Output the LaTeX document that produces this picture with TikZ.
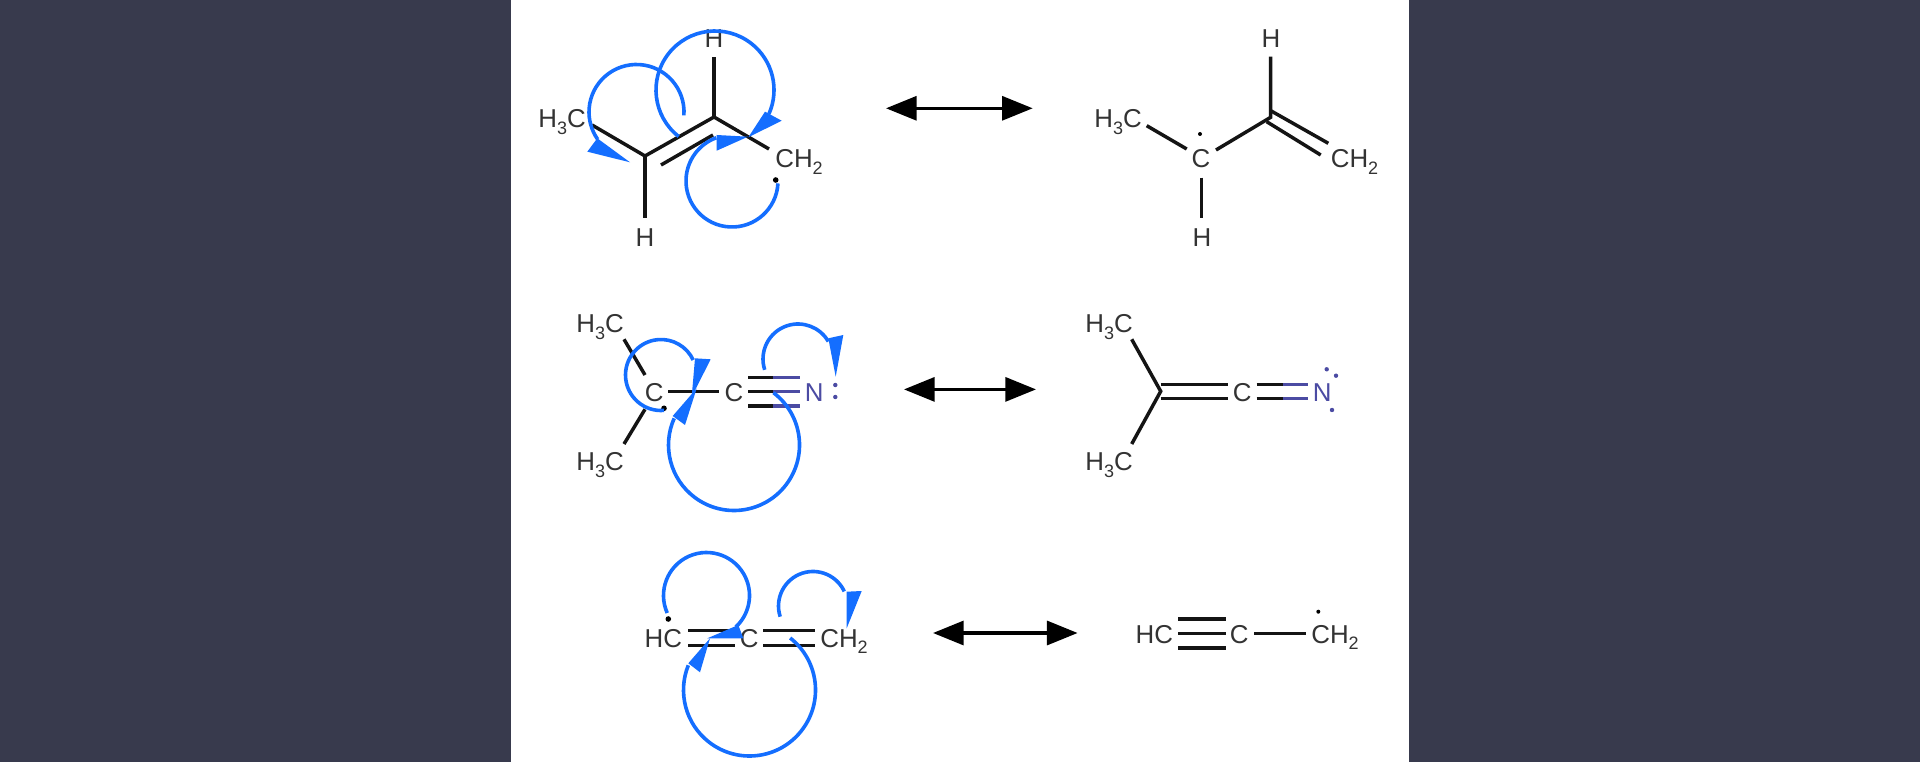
\documentclass[tikz,border=0pt]{standalone}
\usepackage{fontspec}
\setmainfont{Liberation Sans}
\usepackage{xcolor}
\usepackage{tikz}
\usetikzlibrary{arrows.meta}
\definecolor{pagedark}{HTML}{383A4D}
\definecolor{curvedblue}{HTML}{146EFF}
\definecolor{nitrogen}{HTML}{4B4BA3}
\definecolor{atomgrey}{HTML}{333333}
\newcommand{\lowsub}[1]{\raisebox{-4.8pt}{\fontsize{13.5}{13.5}\selectfont #1}}
\tikzset{
  atom/.style={anchor=base,inner sep=0pt,text=atomgrey,font=\fontsize{19.4}{19.4}\selectfont},
  natom/.style={atom,text=nitrogen},
  bond/.style={line width=2.6pt,color=black!92},
  nbond/.style={line width=2.6pt,color=nitrogen},
  curved/.style={line width=2.7pt,color=curvedblue},
  curvedtip/.style={fill=curvedblue},
  resonance/.style={line width=2.4pt,black,{Triangle[length=23pt,width=18pt]}-{Triangle[length=23pt,width=18pt]}}
}
\begin{document}
\begin{tikzpicture}[x=0.75pt,y=0.75pt,yscale=-1,xscale=1]
        \useasboundingbox (0,0) rectangle (1920,762);
        \fill[pagedark] (0,0) rectangle (1920,762);
        \fill[white] (511,0) rectangle (1409,762);

        % top left
        \coordinate (a0) at (592,125);
        \coordinate (a1) at (645,156);
        \coordinate (a2) at (714,117);
        \coordinate (a3) at (769,149);
        \coordinate (a4) at (714,57);
        \coordinate (a5) at (645,218);
        \coordinate (a6) at (661,165);
        \coordinate (a7) at (713,135);
        \draw [bond]   (a0) -- (a1) -- (a2) -- (a3) ;
        \draw [bond]   (a2) -- (a4) ;
        \draw [bond]   (a1) -- (a5) ;
        \draw [bond]   (a6) -- (a7) ;
        \draw (562,127.7) node (am) [atom] {H\lowsub{3}C};
        \draw (714,47.7) node (ah) [atom] {H};
        \draw (645,246.7) node (ai) [atom] {H};
        \draw (799,167.7) node (ac) [atom] {CH\lowsub{2}};
        \fill (775.7,180) circle (2.8);
        \draw [curved] (636.5,112) ++(4:47.5) arc [start angle=4,end angle=-215,radius=47.5];
        \fill [curvedtip] (587.3,151.7) -- (597.3,138.3) -- (630,162.3) -- cycle;
        \draw [curved] (715,90) ++(128:59) arc [start angle=128,end angle=384,radius=59];
        \fill [curvedtip] (781.7,120.7) -- (765,111.7) -- (748.3,137.3) -- cycle;
        \draw [curved] (732,181) ++(3:46) arc [start angle=3,end angle=250,radius=46];
        \fill [curvedtip] (716.7,135) -- (716.7,150.7) -- (748,136.7) -- cycle;

        % top right
        \coordinate (b0) at (1146.7,125.7);
        \coordinate (b1) at (1186.7,149);
        \coordinate (b2) at (1216,150);
        \coordinate (b3) at (1270.7,117.3);
        \coordinate (b4) at (1270.7,56.7);
        \coordinate (b5) at (1270.7,110.7);
        \coordinate (b6) at (1328.3,143.3);
        \coordinate (b7) at (1266.7,121.7);
        \coordinate (b8) at (1320.7,155);
        \coordinate (b9) at (1201.7,177.7);
        \coordinate (b10) at (1201.7,218.3);
        \draw [bond]   (b0) -- (b1) ;
        \draw [bond]   (b2) -- (b3) -- (b4) ;
        \draw [bond]   (b5) -- (b6) ;
        \draw [bond]   (b7) -- (b8) ;
        \draw [bond]   (b9) -- (b10) ;
        \draw (1118,127.7) node (bm) [atom] {H\lowsub{3}C};
        \draw (1201,167.7) node (bc) [atom] {C};
        \draw (1202,246.7) node (bi) [atom] {H};
        \draw (1271,47.7) node (bh) [atom] {H};
        \draw (1354.5,167.7) node (be) [atom] {CH\lowsub{2}};
        \fill (1200,134) circle (2);

        % middle left
        \coordinate (c0) at (624,339.3);
        \coordinate (c1) at (645,375);
        \coordinate (c2) at (645,409.3);
        \coordinate (c3) at (624,444);
        \coordinate (c4) at (668.3,391.5);
        \coordinate (c5) at (719.3,391.5);
        \coordinate (c6) at (748.3,377.3);
        \coordinate (c7) at (773,377.3);
        \coordinate (c8) at (800,377.3);
        \coordinate (c9) at (748.3,391.5);
        \coordinate (c10) at (773,391.5);
        \coordinate (c11) at (800,391.5);
        \coordinate (c12) at (748.3,406);
        \coordinate (c13) at (773,406);
        \coordinate (c14) at (800,406);
        \draw [bond]   (c0) -- (c1) ;
        \draw [bond]   (c2) -- (c3) ;
        \draw [bond]   (c4) -- (c5) ;
        \draw [bond]   (c6) -- (c7) ;
        \draw [nbond]  (c7) -- (c8) ;
        \draw [bond]   (c9) -- (c10) ;
        \draw [nbond]  (c10) -- (c11) ;
        \draw [bond]   (c12) -- (c13) ;
        \draw [nbond]  (c13) -- (c14) ;
        \draw (600,332.7) node (cm) [atom] {H\lowsub{3}C};
        \draw (600,471) node (cn) [atom] {H\lowsub{3}C};
        \draw (654.3,401.7) node (cc) [atom] {C};
        \draw (734,401.7) node (cd) [atom] {C};
        \draw (814.3,401.7) node (ce) [natom] {N};
        \fill (664,408.3) circle (2.8);
        \fill [nitrogen] (835.3,385) circle (2.2);
        \fill [nitrogen] (835.3,397) circle (2.2);
        \draw [curved] (661,375) ++(85:35.5) arc [start angle=85,end angle=335,radius=35.5];
        \fill [curvedtip] (695,358.3) -- (710.7,359.3) -- (691.7,396.7) -- cycle;
        \draw [curved] (734,445) ++(-53:65.5) arc [start angle=-53,end angle=204,radius=65.5];
        \fill [curvedtip] (672.7,416) -- (685,425) -- (696.7,388.3) -- cycle;
        \draw [curved] (798,359) ++(162:35) arc [start angle=162,end angle=330,radius=35];
        \fill [curvedtip] (828.3,338.3) -- (843.3,335) -- (835.7,376.7) -- cycle;

        % middle right
        \coordinate (d0) at (1131.7,339.3);
        \coordinate (d1) at (1160.7,391.3);
        \coordinate (d2) at (1131.7,444);
        \coordinate (d3) at (1160.7,384.3);
        \coordinate (d4) at (1227.7,384.3);
        \coordinate (d5) at (1160.7,398.3);
        \coordinate (d6) at (1227.7,398.3);
        \coordinate (d7) at (1256.7,384.3);
        \coordinate (d8) at (1282.7,384.3);
        \coordinate (d9) at (1308.3,384.3);
        \coordinate (d10) at (1256.7,398.3);
        \coordinate (d11) at (1282.7,398.3);
        \coordinate (d12) at (1308.3,398.3);
        \draw [bond]   (d0) -- (d1) -- (d2) ;
        \draw [bond]   (d3) -- (d4) ;
        \draw [bond]   (d5) -- (d6) ;
        \draw [bond]   (d7) -- (d8) ;
        \draw [nbond]  (d8) -- (d9) ;
        \draw [bond]   (d10) -- (d11) ;
        \draw [nbond]  (d11) -- (d12) ;
        \draw (1109,332.7) node (dm) [atom] {H\lowsub{3}C};
        \draw (1109,471) node (dn) [atom] {H\lowsub{3}C};
        \draw (1242.3,401.7) node (dc) [atom] {C};
        \draw (1322.3,401.7) node (de) [natom] {N};
        \fill [nitrogen] (1326.7,369.3) circle (2.2);
        \fill [nitrogen] (1336,375.7) circle (2.2);
        \fill [nitrogen] (1332,410) circle (2.2);

        % bottom left
        \coordinate (e0) at (688.3,630.7);
        \coordinate (e1) at (735,630.7);
        \coordinate (e2) at (688.3,645.7);
        \coordinate (e3) at (735,645.7);
        \coordinate (e4) at (763.3,630.7);
        \coordinate (e5) at (815,630.7);
        \coordinate (e6) at (763.3,645.7);
        \coordinate (e7) at (815,645.7);
        \draw [bond]   (e0) -- (e1) ;
        \draw [bond]   (e2) -- (e3) ;
        \draw [bond]   (e4) -- (e5) ;
        \draw [bond]   (e6) -- (e7) ;
        \draw (663.3,647.3) node (eh) [atom] {HC};
        \draw (749.3,647.3) node (ec) [atom] {C};
        \draw (844,647.3) node (ee) [atom] {CH\lowsub{2}};
        \fill (668.3,619) circle (2.8);
        \draw [curved] (706.5,595.5) ++(156:43) arc [start angle=156,end angle=407,radius=43];
        \fill [curvedtip] (743.3,638.3) -- (738.3,625) -- (707.3,638.3) -- cycle;
        \draw [curved] (749.5,690) ++(-52:66) arc [start angle=-52,end angle=202,radius=66];
        \fill [curvedtip] (688.3,663.3) -- (700,672.3) -- (710,638.3) -- cycle;
        \draw [curved] (813,606) ++(162:34.5) arc [start angle=162,end angle=335,radius=34.5];
        \fill [curvedtip] (846.7,591.7) -- (861.7,591) -- (846.7,628.3) -- cycle;

        % bottom right
        \coordinate (f0) at (1178.3,619);
        \coordinate (f1) at (1226,619);
        \coordinate (f2) at (1178.3,633.3);
        \coordinate (f3) at (1226,633.3);
        \coordinate (f4) at (1178.3,648);
        \coordinate (f5) at (1226,648);
        \coordinate (f6) at (1254,633.3);
        \coordinate (f7) at (1306,633.3);
        \draw [bond]   (f0) -- (f1) ;
        \draw [bond]   (f2) -- (f3) ;
        \draw [bond]   (f4) -- (f5) ;
        \draw [bond]   (f6) -- (f7) ;
        \draw (1154.3,643.3) node (fh) [atom] {HC};
        \draw (1239.3,643.3) node (fc) [atom] {C};
        \draw (1335,643.3) node (fe) [atom] {CH\lowsub{2}};
        \fill (1318.3,611.7) circle (2);

        % resonance arrows
        \coordinate (g0) at (886,108.3);
        \coordinate (g1) at (1032.7,108.3);
        \coordinate (g2) at (904,389.4);
        \coordinate (g3) at (1036,389.4);
        \coordinate (g4) at (933,633);
        \coordinate (g5) at (1077.6,633);
        \draw [resonance] (g0) -- (g1) ;
        \draw [resonance] (g2) -- (g3) ;
        \draw [resonance] (g4) -- (g5) ;
    \end{tikzpicture}
\end{document}
